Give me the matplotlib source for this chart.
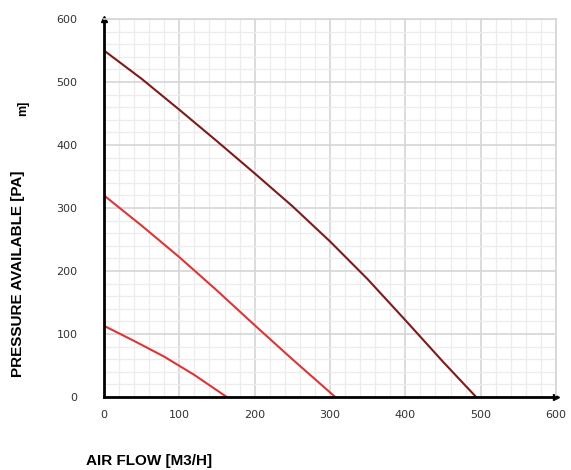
import matplotlib.pyplot as plt
from matplotlib.ticker import MultipleLocator

# curve data (air flow m3/h -> pressure Pa)
flow_high = [0, 50, 100, 150, 200, 250, 300, 350, 400, 450, 494]
pres_high = [550, 505, 456, 406, 355, 303, 247, 187, 122, 56, 0]

flow_mid = [0, 50, 100, 150, 200, 250, 307]
pres_mid = [320, 272, 222, 169, 114, 60, 0]

flow_low = [0, 40, 80, 120, 163]
pres_low = [113, 89, 64, 35, 0]

x_ticks = [0, 100, 200, 300, 400, 500, 600]
y_ticks = [0, 100, 200, 300, 400, 500, 600]

fig = plt.figure(figsize=(5.71, 4.70), dpi=100)
ax = fig.add_axes([0.1821, 0.1553, 0.7916, 0.8043])

ax.set_xlim(0, 600)
ax.set_ylim(0, 600)

# grid
ax.xaxis.set_major_locator(MultipleLocator(100))
ax.yaxis.set_major_locator(MultipleLocator(100))
ax.xaxis.set_minor_locator(MultipleLocator(20))
ax.yaxis.set_minor_locator(MultipleLocator(20))
ax.grid(which='major', color='#d6d6d6', linewidth=1.2)
ax.grid(which='minor', color='#ececec', linewidth=0.9)
ax.set_axisbelow(True)
ax.tick_params(which='both', length=0)

for side in ['top', 'right']:
    ax.spines[side].set_color('#d6d6d6')
    ax.spines[side].set_linewidth(1.2)
for side in ['left', 'bottom']:
    ax.spines[side].set_color('black')
    ax.spines[side].set_linewidth(2)

# arrow heads on the axes
ax.plot(1, 0, '>', color='black', markersize=5, transform=ax.transAxes, clip_on=False)
ax.plot(0, 1, '^', color='black', markersize=5, transform=ax.transAxes, clip_on=False)

# curves
ax.plot(flow_high, pres_high, color='#7e1a1a', linewidth=1.5)
ax.plot(flow_mid, pres_mid, color='#dd3535', linewidth=1.5)
ax.plot(flow_low, pres_low, color='#dd3535', linewidth=1.5)

ax.set_xticks(x_ticks)
ax.set_yticks(y_ticks)
ax.set_xticklabels([str(t) for t in x_ticks], fontsize=8, color='#333333')
ax.set_yticklabels([str(t) for t in y_ticks], fontsize=8, color='#333333')
ax.tick_params(axis='x', pad=9)
ax.tick_params(axis='y', pad=19)

# axis titles
fig.text(0.032, 0.417, 'PRESSURE AVAILABLE [PA]', rotation=90, fontsize=11,
         fontweight='bold', family='Liberation Sans', ha='center', va='center')
fig.text(0.15, 0.005, 'AIR FLOW [M3/H]', fontsize=11, fontweight='bold',
         family='Liberation Sans', ha='left', va='bottom')
# leftover unit fragment seen in the reference
fig.text(0.04, 0.77, 'm]', rotation=90, fontsize=9, fontweight='bold',
         family='Liberation Sans', ha='center', va='center')

fig.savefig('out.png', dpi=100)
